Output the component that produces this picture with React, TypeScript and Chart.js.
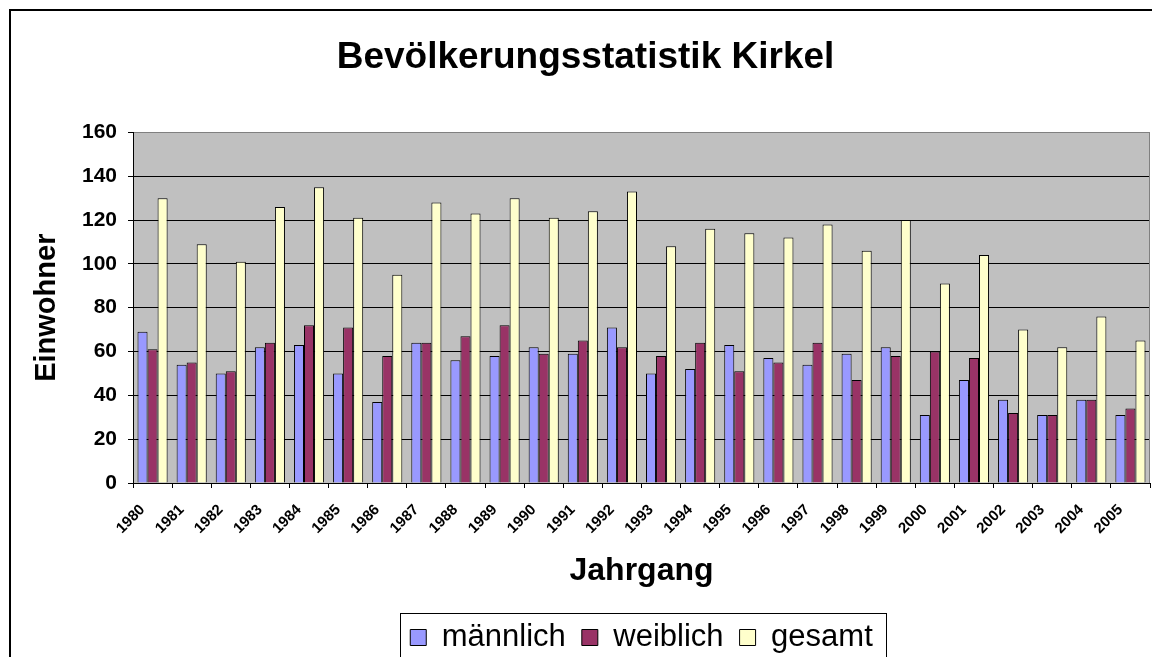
import React, { useEffect, useRef } from 'react';
import { Chart, registerables } from 'chart.js';

Chart.register(...registerables);

const years = ['1980', '1981', '1982', '1983', '1984', '1985', '1986', '1987', '1988', '1989', '1990', '1991', '1992', '1993', '1994', '1995', '1996', '1997', '1998', '1999', '2000', '2001', '2002', '2003', '2004', '2005'];
const maennlich = [69, 54, 50, 62, 63, 50, 37, 64, 56, 58, 62, 59, 71, 50, 52, 63, 57, 54, 59, 62, 31, 47, 38, 31, 38, 31];
const weiblich = [61, 55, 51, 64, 72, 71, 58, 64, 67, 72, 59, 65, 62, 58, 64, 51, 55, 64, 47, 58, 60, 57, 32, 31, 38, 34];
const gesamt = [130, 109, 101, 126, 135, 121, 95, 128, 123, 130, 121, 124, 133, 108, 116, 114, 112, 118, 106, 120, 91, 104, 70, 62, 76, 65];
const seriesNames = ['männlich', 'weiblich', 'gesamt'];
const seriesColors = ['#9999FF', '#993366', '#FFFFCC'];
const titleText = 'Bevölkerungsstatistik Kirkel';
const xTitle = 'Jahrgang';
const yTitle = 'Einwohner';

const FONT = "'Liberation Sans', Arial, Helvetica, sans-serif";
const W = 1165;
const H = 663;

export default function App() {
  const ref = useRef<HTMLCanvasElement>(null);

  useEffect(() => {
    if (!ref.current) return;
    const deco = {
      id: 'deco',
      beforeDraw(chart: any) {
        const { ctx, chartArea: a } = chart;
        ctx.save();
        ctx.fillStyle = '#ffffff';
        ctx.fillRect(0, 0, chart.width, chart.height);
        ctx.fillStyle = '#C0C0C0';
        ctx.fillRect(a.left, a.top, a.right - a.left, a.bottom - a.top);
        ctx.restore();
      },
      afterDraw(chart: any) {
        const { ctx, chartArea: a } = chart;
        ctx.save();
        // plot border right
        ctx.strokeStyle = '#808080';
        ctx.lineWidth = 1;
        ctx.beginPath();
        ctx.moveTo(a.right - 0.5, a.top);
        ctx.lineTo(a.right - 0.5, a.bottom);
        ctx.stroke();
        // outer chart border
        ctx.strokeStyle = '#000000';
        ctx.lineWidth = 2;
        ctx.beginPath();
        ctx.moveTo(10, chart.height + 10);
        ctx.lineTo(10, 10);
        ctx.lineTo(chart.width + 10, 10);
        ctx.stroke();
        // legend frame
        const lg = chart.legend;
        const hb = lg && lg.legendHitBoxes;
        if (hb && hb.length) {
          const last = hb[hb.length - 1];
          const left = Math.round(hb[0].left - 10) + 0.5;
          const right = Math.round(last.left + last.width + 13) + 0.5;
          const top = Math.round(lg.top + 7) + 0.5;
          ctx.lineWidth = 1;
          ctx.strokeStyle = '#000000';
          ctx.strokeRect(left, top, right - left, 200);
        }
        ctx.restore();
      },
    };

    const chart = new Chart(ref.current, {
      type: 'bar',
      data: {
        labels: years,
        datasets: [maennlich, weiblich, gesamt].map((d, i) => ({
          label: seriesNames[i],
          data: d,
          backgroundColor: seriesColors[i],
          borderColor: '#000000',
          borderWidth: 1,
          categoryPercentage: 0.77,
          barPercentage: 1.0,
          yAxisID: 'y',
        })),
      },
      options: {
        animation: false,
        responsive: false,
        maintainAspectRatio: false,
        layout: { padding: { top: 0, left: 9, right: 3, bottom: 0 } },
        plugins: {
          title: {
            display: true,
            text: titleText,
            color: '#000',
            font: { family: FONT, size: 37, weight: 'bold' },
            padding: { top: 36, bottom: 52 },
          },
          legend: {
            display: true,
            position: 'bottom',
            fullSize: false,
            labels: {
              color: '#000',
              font: { family: FONT, size: 31 },
              boxWidth: 16,
              boxHeight: 16,
              padding: 16,
            },
          },
          tooltip: { enabled: false },
        },
        scales: {
          x: {
            afterFit: (s: any) => { s.height = 123; },
            grid: {
              display: true,
              offset: true,
              drawOnChartArea: false,
              drawTicks: true,
              tickLength: 5,
              color: '#000',
            },
            border: { display: true, color: '#000', width: 1 },
            ticks: {
              autoSkip: false,
              maxRotation: 45,
              minRotation: 45,
              padding: 13,
              labelOffset: -10,
              color: '#000',
              font: { family: FONT, size: 15, weight: 'bold' },
            },
            title: {
              display: true,
              text: xTitle,
              color: '#000',
              font: { family: FONT, size: 32, weight: 'bold' },
              padding: { top: 0, bottom: 16 },
            },
          },
          y: {
            position: 'left',
            min: 0,
            max: 160,
            afterFit: (s: any) => { s.width = 124; },
            grid: {
              display: true,
              drawOnChartArea: true,
              drawTicks: true,
              tickLength: 5,
              tickColor: '#000',
              color: (c: any) => (c.tick && c.tick.value === 160 ? '#808080' : '#000000'),
            },
            border: { display: true, color: '#000', width: 1 },
            ticks: {
              stepSize: 20,
              padding: 11,
              color: '#000',
              font: { family: FONT, size: 21, weight: 'bold' },
            },
            title: {
              display: true,
              text: yTitle,
              color: '#000',
              font: { family: FONT, size: 29, weight: 'bold' },
              padding: { top: 21, bottom: 0 },
            },
          },
          y2: {
            position: 'right',
            display: true,
            afterFit: (s: any) => { s.width = 12; },
            grid: { display: false, drawTicks: false },
            border: { display: false },
            ticks: { display: false },
          },
        },
      },
      plugins: [deco],
    } as any);

    return () => chart.destroy();
  }, []);

  return (
    <div style={{ position: 'fixed', left: 0, top: 0, width: 1152, height: 657, overflow: 'hidden', background: '#fff' }}>
      <canvas ref={ref} width={W} height={H} style={{ display: 'block', width: W, height: H }} />
    </div>
  );
}
